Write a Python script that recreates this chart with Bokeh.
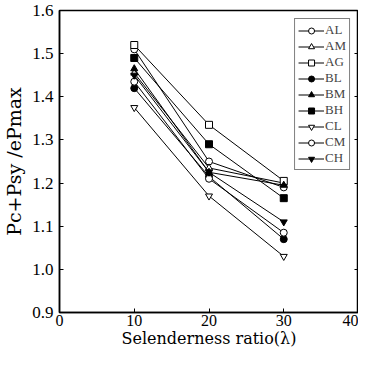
from bokeh.plotting import figure
from bokeh.models import (Range1d, FixedTicker, PrintfTickFormatter, LinearAxis,
                          Legend, LegendItem)
from bokeh.embed import file_html
from bokeh.resources import INLINE

x = [10, 20, 30]
series = ["AL", "AM", "AG", "BL", "BM", "BH", "CL", "CM", "CH"]
AL = [1.510, 1.250, 1.190]
AM = [1.455, 1.235, 1.200]
AG = [1.520, 1.335, 1.205]
BL = [1.420, 1.215, 1.070]
BM = [1.465, 1.225, 1.195]
BH = [1.490, 1.290, 1.165]
CL = [1.375, 1.170, 1.030]
CM = [1.435, 1.210, 1.085]
CH = [1.450, 1.225, 1.110]
values = [AL, AM, AG, BL, BM, BH, CL, CM, CH]
markers = ["circle", "triangle", "square", "circle", "triangle", "square",
           "inverted_triangle", "circle", "inverted_triangle"]
filled = [False, False, False, True, True, True, False, False, True]
x_ticks = [0, 10, 20, 30, 40]
y_ticks = [0.9, 1.0, 1.1, 1.2, 1.3, 1.4, 1.5, 1.6]

FONT = "Liberation Serif"
LFONT = "DejaVu Serif"

p = figure(width=358, height=352, output_backend="svg", toolbar_location=None,
           x_range=Range1d(0, 40), y_range=Range1d(0.9, 1.6),
           min_border_left=51, min_border_right=0, min_border_top=10, min_border_bottom=40)
p.grid.visible = False
p.outline_line_color = "black"
p.outline_line_width = 1.5
p.background_fill_color = "white"

p.xaxis.ticker = FixedTicker(ticks=x_ticks)
p.yaxis.ticker = FixedTicker(ticks=y_ticks)
p.yaxis.formatter = PrintfTickFormatter(format="%.1f")
p.xaxis.axis_label = "Selenderness ratio(\u03bb)"
p.yaxis.axis_label = "Pc+Psy /ePmax"
for ax in (p.xaxis, p.yaxis):
    ax.major_label_text_font = FONT
    ax.major_label_text_font_size = "17px"
    ax.axis_label_text_font = LFONT
    ax.axis_label_text_font_style = "normal"
    ax.major_tick_in = 4
    ax.major_tick_out = 0
    ax.minor_tick_line_color = None
    ax.axis_line_width = 1.5
    ax.major_label_text_color = "black"
    ax.axis_label_text_color = "black"
p.xaxis.major_label_text_font_size = "16px"
p.xaxis.axis_label_text_font_size = "16px"
p.yaxis.axis_label_text_font_size = "19px"
p.xaxis.axis_label_standoff = 0
p.yaxis.axis_label_standoff = 4
p.xaxis.major_label_standoff = 2
p.yaxis.major_label_standoff = 6

right = LinearAxis(ticker=FixedTicker(ticks=y_ticks), major_label_text_alpha=0,
                   major_label_text_font_size="1px", major_label_standoff=0,
                   major_tick_in=4, major_tick_out=0, minor_tick_line_color=None,
                   axis_line_width=1.5)
p.add_layout(right, "right")

items = []
for name, vals, m, f in zip(series, values, markers, filled):
    ln = p.line(x, vals, line_color="black", line_width=1)
    fc = "black" if f else "white"
    sc = p.scatter(x, vals, marker=m, size=7, line_color="black", fill_color=fc, line_width=1)
    items.append(LegendItem(label=name, renderers=[ln, sc]))

leg = Legend(items=items, location="top_right", border_line_color="black",
             border_line_width=1, label_text_font=FONT, label_text_font_size="13px",
             glyph_width=26, glyph_height=15, label_height=15, spacing=0,
             padding=3, margin=8, label_standoff=1, background_fill_alpha=1)
p.add_layout(leg)

open("out.html", "w").write(file_html(p, INLINE))
